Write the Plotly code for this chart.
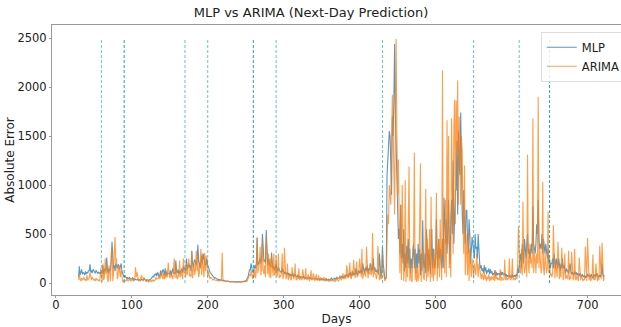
import plotly.graph_objects as go

start_day = 30
mlp_weeks = [
    [60,170,80,100,140,90,110],
    [100,80,120,90,110,100,130],
    [120,190,110,130,100,140,120],
    [110,100,130,120,100,110,100],
    [110,90,120,100,180,90,130],
    [150,120,260,130,100,150,120],
    [140,230,420,200,150,180,120],
    [200,160,150,190,180,140,170],
    [200,120,90,70,60,80,60],
    [50,60,40,50,60,40,45],
    [40,50,35,45,30,40,35],
    [30,40,30,35,25,30,40],
    [35,30,45,40,30,25,35],
    [30,25,35,30,40,50,60],
    [70,60,90,80,100,70,110],
    [90,60,80,130,70,100,140],
    [120,80,150,70,110,90,100],
    [100,90,130,80,120,150,100],
    [110,90,230,120,100,140,90],
    [120,100,130,150,110,170,140],
    [150,120,250,140,180,200,160],
    [180,120,330,200,160,220,240],
    [200,180,250,390,220,200,150],
    [230,280,200,300,250,220,180],
    [200,250,180,150,130,110,100],
    [90,80,70,60,50,55,45],
    [40,35,40,30,35,30,25],
    [25,30,20,25,20,18,20],
    [18,15,18,12,15,12,15],
    [12,15,10,12,14,10,12],
    [12,10,14,12,10,15,12],
    [15,20,18,25,30,50,60],
    [100,140,130,200,160,110,120],
    [140,180,150,200,460,180,200],
    [220,250,200,280,500,230,220],
    [240,200,540,220,180,250,200],
    [180,160,310,200,150,170,130],
    [150,200,140,120,160,130,120],
    [120,100,150,110,130,90,110],
    [100,90,110,80,100,70,90],
    [80,70,100,60,80,90,70],
    [70,60,80,50,70,60,65],
    [60,50,70,55,60,45,50],
    [55,50,45,60,50,40,45],
    [50,40,45,50,40,45,35],
    [40,35,45,40,30,40,35],
    [35,40,30,35,45,30,40],
    [40,30,35,45,50,35,40],
    [45,50,40,55,60,45,50],
    [50,60,55,70,50,65,60],
    [70,60,80,90,70,60,100],
    [80,110,70,90,120,80,100],
    [90,150,100,80,120,130,100],
    [110,140,90,200,120,100,140],
    [160,120,180,100,150,130,200],
    [180,120,150,250,130,160,120],
    [110,140,100,90,300,80,60],
    [120,370,200,100,50,40,60],
    [1100,1300,1400,1550,1500,1200,900],
    [1700,1500,1850,2440,1700,1300,900],
    [700,450,550,300,800,250,400],
    [200,550,120,300,150,380,200],
    [450,150,350,100,250,150,300],
    [400,150,350,100,300,150,400],
    [200,350,80,300,120,640,200],
    [150,300,100,550,200,120,350],
    [200,90,300,550,150,350,200],
    [150,250,650,300,150,450,250],
    [350,250,150,450,150,870,500],
    [400,650,300,550,850,400,200],
    [650,850,500,1250,400,750,950],
    [950,1450,700,1550,1200,1100,1740],
    [1100,700,500,950,600,400,740],
    [745,450,300,650,500,200,450],
    [470,400,300,250,500,350,370],
    [250,500,300,200,150,180,120],
    [150,100,180,120,160,90,130],
    [110,150,90,140,100,120,80],
    [100,90,130,70,110,80,100],
    [90,100,70,120,80,110,90],
    [80,100,70,90,60,80,70],
    [60,80,70,50,90,60,70],
    [80,60,90,70,150,100,200],
    [250,300,150,400,250,200,450],
    [300,250,400,500,300,350,250],
    [350,400,300,780,400,350,300],
    [400,600,500,850,450,350,400],
    [350,500,300,450,350,300,400],
    [300,250,350,200,250,150,200],
    [200,250,150,300,200,150,250],
    [200,150,250,180,120,200,150],
    [250,150,180,120,100,150,120],
    [130,100,150,200,120,90,110],
    [100,80,120,90,110,80,100],
    [90,70,100,80,60,90,70],
    [60,80,50,70,60,90,70],
    [80,60,70,90,60,50,80],
    [70,90,60,100,80,70,60],
    [80,60,100,200,90,60,80],
]
arima_weeks = [
    [30,90,40,20,50,30,40],
    [60,30,40,20,80,30,40],
    [50,110,40,30,60,40,30],
    [40,20,50,30,40,20,30],
    [20,150,40,10,200,30,60],
    [250,90,200,40,10,180,60],
    [20,300,360,20,100,300,470],
    [200,250,40,80,180,130,60],
    [150,80,10,20,40,30,20],
    [30,40,20,25,40,30,20],
    [30,60,20,30,40,160,60],
    [110,40,20,30,20,60,80],
    [30,20,60,40,20,10,30],
    [20,10,15,20,25,15,30],
    [20,30,20,40,60,40,50],
    [50,80,40,70,120,60,40],
    [100,40,90,50,130,60,210],
    [70,50,100,60,80,40,150],
    [250,50,190,60,40,90,60],
    [230,60,80,140,40,250,100],
    [110,60,200,80,140,250,70],
    [90,60,320,50,120,200,80],
    [150,330,120,280,60,100,200],
    [350,80,300,150,60,310,120],
    [280,100,60,120,80,40,60],
    [50,40,30,40,35,30,25],
    [30,25,20,30,25,20,30],
    [310,30,20,20,15,20,20],
    [15,20,15,10,15,12,10],
    [10,12,15,10,12,10,15],
    [12,10,15,8,12,10,15],
    [10,15,12,20,15,20,40],
    [60,90,70,130,90,40,100],
    [60,150,50,120,470,100,160],
    [200,370,80,150,430,140,90],
    [180,60,480,120,90,300,60],
    [250,50,270,100,70,300,80],
    [90,280,60,100,300,50,80],
    [60,100,300,40,80,360,90],
    [40,60,200,30,70,100,40],
    [30,160,50,40,70,200,40],
    [30,90,40,150,30,60,40],
    [30,140,40,30,60,150,40],
    [30,90,40,20,50,130,30],
    [40,100,30,20,60,90,30],
    [30,80,20,40,60,30,50],
    [20,60,30,20,50,25,30],
    [20,30,15,40,20,30,25],
    [20,40,15,25,50,30,20],
    [30,80,40,30,60,100,40],
    [50,90,40,180,60,50,70],
    [210,60,40,130,70,235,60],
    [50,80,220,60,90,110,250],
    [70,60,350,40,100,80,150],
    [60,370,80,50,120,90,200],
    [80,100,510,60,150,90,100],
    [40,80,380,50,30,90,40],
    [50,300,150,80,20,40,50],
    [400,700,600,1000,900,800,1400],
    [1920,1600,1200,700,1750,2490,1500],
    [900,1260,200,100,800,30,1000],
    [500,20,150,1050,10,300,60],
    [700,1190,20,200,40,10,350],
    [400,1330,30,200,10,150,20],
    [80,700,1220,10,200,350,60],
    [30,250,960,20,450,60,200],
    [550,10,880,60,250,20,350],
    [80,300,920,20,250,450,60],
    [650,200,30,2170,300,450,100],
    [850,60,1660,400,1500,150,300],
    [60,1680,1200,300,1600,1870,600],
    [1860,1350,2070,800,1700,1300,800],
    [1500,1340,700,300,1200,80,500],
    [200,80,550,20,350,200,60],
    [250,100,50,200,150,80,300],
    [100,60,200,150,80,40,100],
    [60,30,120,40,80,20,60],
    [40,90,20,60,30,70,40],
    [30,100,20,130,40,60,30],
    [50,30,140,20,60,40,30],
    [40,240,30,60,30,50,40],
    [250,40,30,60,250,30,40],
    [50,30,60,40,200,580,150],
    [120,100,350,80,830,200,100],
    [150,300,60,1310,200,100,400],
    [200,250,150,1680,100,300,250],
    [100,300,200,1900,150,400,200],
    [100,200,1030,150,80,300,200],
    [100,150,730,100,200,80,100],
    [60,100,590,80,50,200,100],
    [60,420,80,40,150,60,360],
    [60,30,100,300,40,80,60],
    [40,330,30,60,40,320,50],
    [30,60,350,40,30,80,40],
    [20,260,40,30,80,30,20],
    [40,30,370,60,20,460,40],
    [30,100,20,40,60,290,30],
    [60,30,200,40,20,80,30],
    [380,60,40,410,30,20,60],
]
event_days = [60, 90, 170, 200, 260, 290, 430, 550, 610, 650]
event_dark = [False, True, False, False, True, False, False, False, False, True]

mlp = [v for w in mlp_weeks for v in w]
arima = [v for w in arima_weeks for v in w]
days = list(range(start_day, start_day + len(mlp)))

fig = go.Figure()
fig.add_trace(go.Scatter(x=days, y=mlp, mode="lines", name="MLP",
                         line=dict(color="#1f77b4", width=1.1), opacity=0.75))
fig.add_trace(go.Scatter(x=days, y=arima, mode="lines", name="ARIMA",
                         line=dict(color="#ff7f0e", width=1.1), opacity=0.75))

for d, dark in zip(event_days, event_dark):
    fig.add_shape(type="line", x0=d, x1=d, y0=0, y1=2500, xref="x", yref="y",
                  line=dict(color="rgba(20,150,150,0.9)" if dark else "rgba(40,170,170,0.7)",
                            width=1, dash="3px,2px"), layer="above")

axis_font = dict(family="DejaVu Sans", size=11.5, color="#222")
label_font = dict(family="DejaVu Sans", size=12, color="#222")
fig.update_layout(
    width=621, height=327,
    margin=dict(l=52, r=0, t=25, b=32, autoexpand=False),
    paper_bgcolor="white", plot_bgcolor="white",
    font=dict(family="DejaVu Sans", color="#222"),
    title=dict(text="MLP vs ARIMA (Next-Day Prediction)", x=311 / 621, xref="container",
               xanchor="center", y=1 - 12 / 327, yanchor="middle",
               font=dict(family="DejaVu Sans", size=13, color="#222")),
    showlegend=True,
    legend=dict(x=0.859, y=0.975, xanchor="left", yanchor="top",
                bgcolor="rgba(255,255,255,0.85)", bordercolor="#ddd", borderwidth=1,
                font=dict(family="DejaVu Sans", size=11.5, color="#222"),
                itemwidth=30, tracegroupgap=0),
    xaxis=dict(range=[-5, 744], tickvals=[0, 100, 200, 300, 400, 500, 600, 700],
               showgrid=False, zeroline=False, showline=True, mirror=True,
               linecolor="#999", linewidth=1, ticks="outside", ticklen=2,
               tickcolor="#999", tickfont=axis_font, ticklabelstandoff=-3,
               title=dict(text="Days", font=label_font, standoff=0)),
    yaxis=dict(range=[-122, 2633], tickvals=[0, 500, 1000, 1500, 2000, 2500],
               showgrid=False, zeroline=False, showline=True,
               linecolor="#999", linewidth=1, ticks="outside", ticklen=2,
               tickcolor="#999", tickfont=axis_font,
               title=dict(text="Absolute Error", font=label_font, standoff=0)),
)

fig.write_html("out.html")
